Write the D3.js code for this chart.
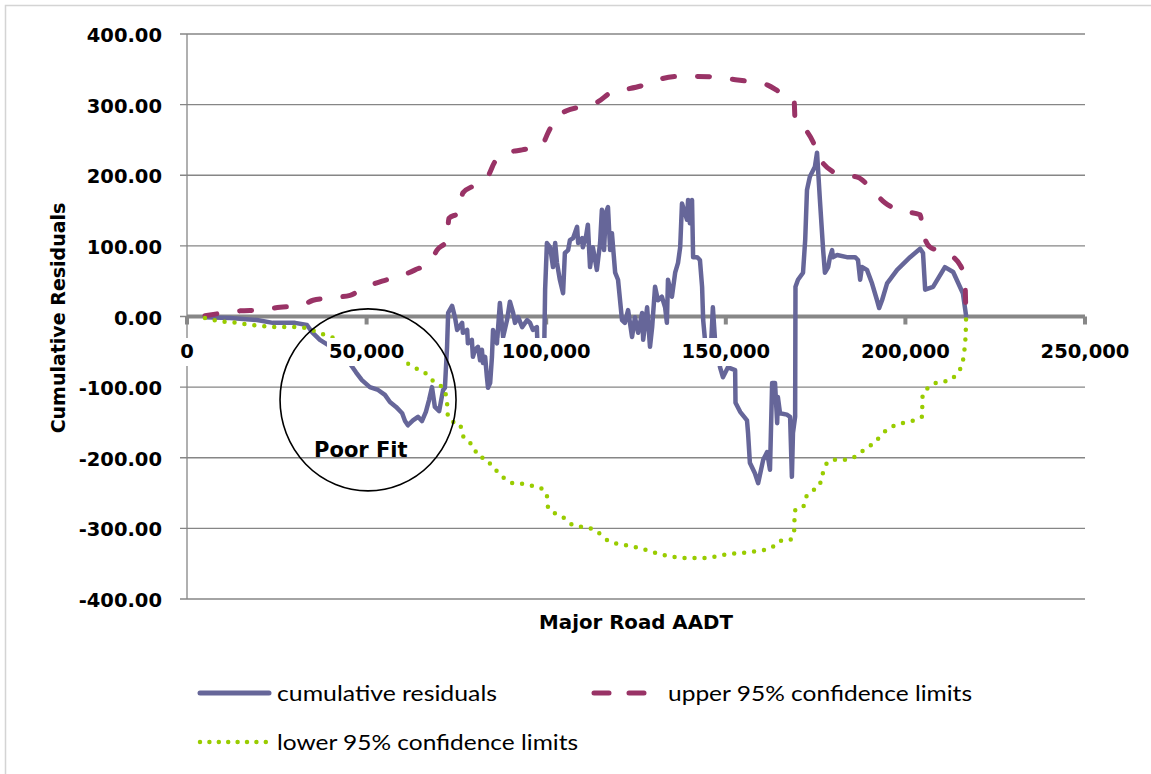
<!DOCTYPE html>
<html><head><meta charset="utf-8">
<script src="https://cdn.jsdelivr.net/npm/d3@7"></script>
<style>body{margin:0;background:#fff;} svg{display:block;}</style>
</head><body>
<svg id="chart" width="1151" height="774"></svg>
<script>
// ---------- DATA ----------
const xTicks = [0, 50000, 100000, 150000, 200000, 250000];
const xTickLabels = ["0", "50,000", "100,000", "150,000", "200,000", "250,000"];
const yTicks = [400, 300, 200, 100, 0, -100, -200, -300, -400];
const yTickLabels = ["400.00", "300.00", "200.00", "100.00", "0.00", "-100.00", "-200.00", "-300.00", "-400.00"];

const seriesNames = ["cumulative residuals", "upper 95% confidence limits", "lower 95% confidence limits"];

const residAADT = [
  5000, 12000, 19500, 23900, 30100, 33400, 34800, 37000, 39800, 42600,
  45400, 47050, 48700, 50900, 53200, 55100, 56500, 58200, 59900, 60700,
  61500, 62900, 64300, 65400, 66500, 67400, 68200, 69000, 70200, 71300,
  71800, 72400, 72700, 73800, 74600, 75200, 76600, 76800, 78000, 78200,
  79300, 79600, 80200, 81000, 81600, 82100, 82400, 83000, 83500, 83800,
  84400, 84900, 85200, 86300, 87100, 88000, 89100, 89900, 90800, 91300,
  92200, 93300, 94700, 95500, 96300, 97400, 97700, 99400, 99700, 100200,
  101100, 101900, 102500, 103000, 103800, 104700, 105200, 106100, 106600, 107500,
  108600, 108900, 110000, 110200, 111100, 111600, 112200, 113000, 114100, 115000,
  115500, 116100, 116600, 117200, 117800, 118300, 119200, 120000, 121100, 121900,
  122800, 123900, 124700, 125600, 126700, 127000, 128100, 128900, 129500, 130300,
  131100, 132200, 133100, 133600, 133900, 135000, 135900, 136700, 137300, 137800,
  138600, 139200, 139500, 140000, 140600, 140900, 142000, 142800, 143400, 143700,
  144200, 144800, 145900, 146400, 147000, 147800, 148400, 149200, 150600, 152600,
  152700, 154000, 155900, 156200, 156700, 158100, 159000, 160400, 161500, 162300,
  162900, 163700, 164300, 164500, 165100, 167000, 167900, 168400, 168700, 169300,
  169400, 170100, 171500, 172100, 172600, 173400, 174800, 175400, 176200, 177100,
  177600, 178500, 179000, 179600, 179800, 181000, 183700, 186000, 186800, 187400,
  187900, 189300, 190700, 192100, 192700, 193500, 194900, 197700, 201300, 204100,
  204900, 205500, 207700, 211000, 213300, 216000, 216900
];
const residValues = [
  -1, -2, -5, -9, -9, -12, -22, -33, -42, -50,
  -67, -79, -90, -100, -104, -111, -121, -128, -137, -148,
  -154, -147, -142, -148, -135, -118, -100, -128, -134, -104,
  -101, -43, 5, 15, -1, -19, -9, -23, -19, -38,
  -33, -57, -47, -43, -62, -47, -66, -57, -86, -101,
  -94, -57, -19, -38, 19, -29, -5, 21, 5, -9,
  -1, -15, -5, -9, -19, -15, -60, -60, 38, 104,
  98, 70, 104, 76, 52, 33, 90, 94, 108, 111,
  127, 104, 111, 98, 114, 130, 70, 98, 66, 104,
  151, 94, 147, 155, 94, 118, 62, 52, -5, -9,
  9, -29, -1, -23, 5, -33, 13, -43, -15, 42,
  23, 28, 13, -9, 52, 28, 62, 76, 98, 160,
  147, 137, 165, 132, 165, 84, 84, 80, 42, -5,
  -33, -45, -40, 13, -33, -50, -72, -86, -72, -76,
  -122, -135, -147, -165, -207, -222, -236, -203, -192, -217,
  -94, -94, -151, -114, -137, -139, -142, -227, -165, -142,
  42, 52, 62, 108, 179, 198, 212, 232, 165, 94,
  62, 70, 84, 94, 84, 87, 84, 84, 80, 52,
  70, 66, 47, 23, 12, 23, 47, 66, 84, 96,
  90, 38, 42, 70, 63, 33, 1
];

const upperAADT = [
  5000, 10000, 14800, 20300, 25900, 31500, 35100, 39000, 45400, 49000,
  54300, 59300, 63500, 67700, 69600, 72400, 72900, 75700, 76800, 80200,
  83800, 85700, 89400, 93300, 98800, 100500, 102700, 105500, 110800, 114400,
  118300, 122500, 128100, 131700, 137300, 141400, 147000, 151700, 157300, 161500,
  165600, 169000, 169300, 171800, 174300, 175700, 179800, 181800, 186800, 190100,
  194300, 198500, 204100, 204900, 206900, 211000, 215200, 216600, 216750, 216900
];
const upperValues = [
  1, 5, 8, 9, 13, 15, 23, 26, 30, 40,
  50, 57, 66, 77, 94, 108, 139, 147, 175, 186,
  199, 219, 232, 236, 243, 260, 281, 291, 298, 304,
  318, 322, 329, 336, 340, 340, 339, 336, 332, 328,
  316, 308, 277, 267, 247, 229, 205, 201, 197, 183,
  161, 150, 144, 120, 98, 91, 73, 52, 23, 0
];

const lowerAADT = [
  5000, 8400, 11400, 14200, 17500, 20300, 23700, 26400, 29500, 32900,
  35600, 38400, 44000, 49600, 55100, 61200, 64000, 66300, 68200, 70400,
  71800, 72400, 72500, 73500, 76000, 76600, 78000, 79900, 81000, 83500,
  84900, 86600, 88300, 90800, 93300, 96300, 98800, 100200, 100500, 102200,
  104700, 106300, 108900, 111600, 114100, 115800, 117800, 120300, 123300, 126100,
  128600, 131400, 133900, 136700, 139800, 142800, 145900, 148700, 151700, 154500,
  157300, 160400, 163100, 164800, 167900, 169000, 169100, 169200, 171500, 172300,
  174000, 176000, 176800, 177600, 179600, 182600, 185400, 186800, 189300, 191500,
  193800, 196300, 199100, 201800, 204600, 204700, 204800, 206600, 209100, 211900,
  214400, 215800, 216300, 216600, 216800, 216900
];
const lowerValues = [
  -2, -6, -8, -9, -12, -13, -15, -15, -15, -16,
  -21, -26, -36, -46, -56, -66, -74, -80, -90, -97,
  -107, -121, -137, -148, -152, -166, -176, -185, -198, -202,
  -213, -220, -229, -236, -237, -240, -244, -254, -270, -278,
  -284, -292, -297, -299, -304, -312, -319, -322, -325, -328,
  -332, -336, -339, -341, -342, -342, -341, -338, -336, -335,
  -333, -331, -326, -318, -316, -307, -291, -275, -270, -256,
  -247, -240, -226, -212, -203, -203, -200, -195, -186, -178,
  -165, -156, -151, -148, -142, -128, -111, -100, -93, -91,
  -80, -67, -53, -38, -22, 0
];

// annotation (ellipse centre in data units)
const poorFitCenter = [50400, -118];
const poorFitLabelPos = [48400, -199];

// ---------- CHART ----------
const svg = d3.select("#chart");
const W = 1151, H = 774;
const x = d3.scaleLinear().domain([0, 250000]).range([187, 1085]);
const y = d3.scaleLinear().domain([-400, 400]).range([599, 34]);

const colResid = "#666699", colUpper = "#993366", colLower = "#99cc00";
const gridCol = "#868686";
const boldFont = "'DejaVu Sans', Verdana, sans-serif";
const legendFont = "Lato, 'Noto Sans', sans-serif";

svg.append("rect").attr("width", W).attr("height", H).attr("fill", "#fff");
// chart-area border (only top/left visible)
svg.append("rect").attr("x", 5.5).attr("y", 5.5).attr("width", 1200).attr("height", 1200)
  .attr("fill", "none").attr("stroke", "#d4d4d4").attr("stroke-width", 1.5);

// gridlines
svg.append("g").selectAll("line").data(yTicks).join("line")
  .attr("x1", 180).attr("x2", x(250000))
  .attr("y1", d => y(d)).attr("y2", d => y(d))
  .attr("stroke", gridCol).attr("stroke-width", 1.3);

// y axis line
svg.append("line").attr("x1", x(0)).attr("x2", x(0)).attr("y1", y(400)).attr("y2", y(-400))
  .attr("stroke", gridCol).attr("stroke-width", 1.3);

// x axis (thick) at zero
svg.append("line").attr("x1", x(0)).attr("x2", x(250000)).attr("y1", y(0)).attr("y2", y(0))
  .attr("stroke", "#878787").attr("stroke-width", 4);
svg.append("g").selectAll("rect").data(xTicks).join("rect")
  .attr("x", d => x(d) - 2).attr("y", y(0)).attr("width", 4).attr("height", 8)
  .attr("fill", "#878787");

// series
function makeData(xs, ys) { return xs.map((v, i) => [v, ys[i]]); }
const line = d3.line().x(d => x(d[0])).y(d => y(d[1]));

svg.append("path").datum(makeData(residAADT, residValues))
  .attr("d", line).attr("fill", "none").attr("stroke", colResid)
  .attr("stroke-width", 4.5).attr("stroke-linejoin", "round").attr("stroke-linecap", "round");

svg.append("path").datum(makeData(upperAADT, upperValues))
  .attr("d", line.curve(d3.curveMonotoneX)).attr("fill", "none").attr("stroke", colUpper)
  .attr("stroke-width", 5).attr("stroke-dasharray", "12 23").attr("stroke-linecap", "round");

svg.append("path").datum(makeData(lowerAADT, lowerValues))
  .attr("d", line.curve(d3.curveMonotoneX)).attr("fill", "none").attr("stroke", colLower)
  .attr("stroke-width", 4.5).attr("stroke-dasharray", "0 10").attr("stroke-linecap", "round");

// x tick labels with opaque background
const xl = svg.append("g");
xTicks.forEach((t, i) => {
  const g = xl.append("g");
  const txt = g.append("text").attr("x", x(t)).attr("y", 358)
    .attr("text-anchor", "middle").attr("font-family", boldFont).attr("font-weight", "bold")
    .attr("font-size", 19.5).attr("fill", "#000").text(xTickLabels[i]);
  const bb = txt.node().getBBox();
  g.insert("rect", "text").attr("x", bb.x - 2).attr("y", 338).attr("width", bb.width + 4)
    .attr("height", 28).attr("fill", "#fff");
});

// y tick labels
svg.append("g").selectAll("text").data(yTicks).join("text")
  .attr("x", 162).attr("y", d => y(d) + 8)
  .attr("text-anchor", "end").attr("font-family", boldFont).attr("font-weight", "bold")
  .attr("font-size", 19.5).attr("fill", "#000")
  .text((d, i) => yTickLabels[i]);

// axis titles
svg.append("text").attr("x", (x(0) + x(250000)) / 2).attr("y", 629)
  .attr("text-anchor", "middle").attr("font-family", boldFont).attr("font-weight", "bold")
  .attr("font-size", 19.8).text("Major Road AADT");
svg.append("text").attr("transform", "translate(65,318) rotate(-90)")
  .attr("text-anchor", "middle").attr("font-family", boldFont).attr("font-weight", "bold")
  .attr("font-size", 19).text("Cumulative Residuals");

// poor fit annotation
svg.append("ellipse").attr("cx", x(poorFitCenter[0])).attr("cy", y(poorFitCenter[1]))
  .attr("rx", 88).attr("ry", 91).attr("fill", "none").attr("stroke", "#000").attr("stroke-width", 1.6);
svg.append("text").attr("x", x(poorFitLabelPos[0])).attr("y", y(poorFitLabelPos[1]))
  .attr("text-anchor", "middle").attr("font-family", boldFont).attr("font-weight", "bold")
  .attr("font-size", 21).text("Poor Fit");

// legend
const leg = svg.append("g");
leg.append("line").attr("x1", 200).attr("x2", 269).attr("y1", 693).attr("y2", 693)
  .attr("stroke", colResid).attr("stroke-width", 5).attr("stroke-linecap", "round");
leg.append("text").attr("x", 277).attr("y", 701).attr("font-family", legendFont)
  .attr("font-size", 22).attr("textLength", 220).attr("lengthAdjust", "spacingAndGlyphs")
  .text(seriesNames[0]);
leg.append("line").attr("x1", 594).attr("x2", 650).attr("y1", 693).attr("y2", 693)
  .attr("stroke", colUpper).attr("stroke-width", 5).attr("stroke-linecap", "round")
  .attr("stroke-dasharray", "15 20");
leg.append("text").attr("x", 668).attr("y", 701).attr("font-family", legendFont)
  .attr("font-size", 22).attr("textLength", 304).attr("lengthAdjust", "spacingAndGlyphs")
  .text(seriesNames[1]);
leg.append("line").attr("x1", 200).attr("x2", 266).attr("y1", 742).attr("y2", 742)
  .attr("stroke", colLower).attr("stroke-width", 4.5).attr("stroke-linecap", "round")
  .attr("stroke-dasharray", "0 9.4");
leg.append("text").attr("x", 277).attr("y", 750).attr("font-family", legendFont)
  .attr("font-size", 22).attr("textLength", 301).attr("lengthAdjust", "spacingAndGlyphs")
  .text(seriesNames[2]);
</script>
</body></html>
